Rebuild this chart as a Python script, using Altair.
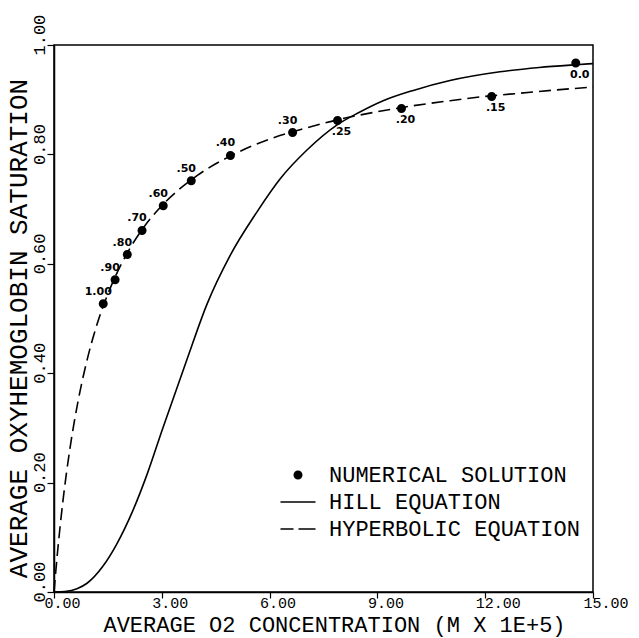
import altair as alt
import pandas as pd

# Numerical solution points
num_x = [1.37, 1.70, 2.04, 2.45, 3.04, 3.82, 4.91, 6.64, 7.89, 9.67, 12.18, 14.52]
num_y = [0.527, 0.571, 0.617, 0.661, 0.706, 0.752, 0.798, 0.840, 0.862, 0.884, 0.906, 0.967]
num_lbl = ["1.00", ".90", ".80", ".70", ".60", ".50", ".40", ".30", ".25", ".20", ".15", "0.0"]

# Hill equation curve
hill_x = [0, 0.3, 0.64, 0.92, 1.36, 1.75, 2.17, 2.59, 3.03, 3.70, 4.25, 4.90, 5.65,
          6.29, 7.04, 7.88, 8.5, 9.16, 10.0, 11.02, 12.41, 13.5, 14.53, 15.0]
hill_y = [0, 0.001, 0.006, 0.016, 0.047, 0.088, 0.145, 0.215, 0.30, 0.425, 0.525, 0.615, 0.695,
          0.755, 0.808, 0.854, 0.877, 0.898, 0.917, 0.935, 0.951, 0.959, 0.964, 0.966]

# Hyperbolic equation curve
hyp_x = [0, 0.1, 0.25, 0.45, 0.67, 0.92, 1.2, 1.5, 2.0, 2.5, 3.0, 4.0, 5.0, 6.0,
         7.0, 8.0, 9.0, 10.0, 11.0, 12.0, 13.0, 14.0, 15.0]
hyp_y = [0, 0.074, 0.167, 0.265, 0.349, 0.424, 0.49, 0.545, 0.615, 0.667, 0.706, 0.762,
         0.80, 0.828, 0.848, 0.865, 0.878, 0.889, 0.898, 0.906, 0.912, 0.918, 0.923]

series_names = ["NUMERICAL SOLUTION", "HILL EQUATION", "HYPERBOLIC EQUATION"]

FONT = "Liberation Mono"

num_df = pd.DataFrame({"x": num_x, "y": num_y, "lbl": num_lbl, "series": series_names[0]})
hill_df = pd.DataFrame({"x": hill_x, "y": hill_y})
hyp_df = pd.DataFrame({"x": hyp_x, "y": hyp_y})

xscale = alt.Scale(domain=[0, 15], nice=False, zero=False)
yscale = alt.Scale(domain=[0, 1], nice=False, zero=False)

xaxis = alt.Axis(
    title="AVERAGE O2 CONCENTRATION (M X 1E+5)",
    values=[0, 3, 6, 9, 12, 15], format=".2f", grid=False,
    tickSize=6, tickColor="black", tickWidth=1.2,
    domainColor="black", domainWidth=1.5,
    labelFont=FONT, labelFontSize=15, labelColor="black",
    labelAlign="left", labelBaseline="top", labelOffset=-10, labelPadding=-3,
    labelFlush=False, labelOverlap=False,
    titleFont=FONT, titleFontSize=22, titleFontWeight="normal", titleColor="black",
    titleX=280, titleY=39, titleAlign="center", titleBaseline="alphabetic",
)
yaxis = alt.Axis(
    title="AVERAGE OXYHEMOGLOBIN SATURATION",
    values=[0, 0.2, 0.4, 0.6, 0.8, 1.0], format=".2f", grid=False,
    tickSize=7, tickColor="black", tickWidth=1.2,
    domainColor="black", domainWidth=1.5,
    labelFont=FONT, labelFontSize=17, labelColor="black",
    labelAngle=270, labelAlign="left", labelBaseline="alphabetic",
    labelPadding=3, labelOffset=10, labelFlush=False, labelOverlap=False,
    titleFont=FONT, titleFontSize=26, titleFontWeight="normal", titleColor="black",
    titleAngle=270, titleX=-28, titleY=283, titleAlign="center", titleBaseline="alphabetic",
)

circle_path = "M-0.45,0A0.45,0.45,0,1,1,0.45,0A0.45,0.45,0,1,1,-0.45,0Z"
solid_path = "M-1.75,-0.08L1.75,-0.08L1.75,0.08L-1.75,0.08Z"
dash_path = ("M-1.75,-0.08L-0.45,-0.08L-0.45,0.08L-1.75,0.08Z"
             "M0.05,-0.08L1.75,-0.08L1.75,0.08L0.05,0.08Z")
shape_scale = alt.Scale(domain=series_names, range=[circle_path, solid_path, dash_path])

hill = alt.Chart(hill_df).mark_line(
    color="black", strokeWidth=1.6, interpolate="monotone"
).encode(
    x=alt.X("x:Q", scale=xscale, axis=xaxis),
    y=alt.Y("y:Q", scale=yscale, axis=yaxis),
)

hyp = alt.Chart(hyp_df).mark_line(
    color="black", strokeWidth=1.6, strokeDash=[12, 6], interpolate="monotone"
).encode(
    x=alt.X("x:Q", scale=xscale),
    y=alt.Y("y:Q", scale=yscale),
)

pts = alt.Chart(num_df).mark_point(
    filled=True, color="black", opacity=1, size=400
).encode(
    x=alt.X("x:Q", scale=xscale),
    y=alt.Y("y:Q", scale=yscale),
    shape=alt.Shape(
        "series:N", scale=shape_scale,
        legend=alt.Legend(
            title=None, orient="none", legendX=233, legendY=419,
            symbolSize=400, symbolFillColor="black", symbolStrokeColor="black",
            symbolStrokeWidth=0, symbolOpacity=1,
            labelFont=FONT, labelFontSize=22, labelColor="black", labelLimit=500,
            labelOffset=20, rowPadding=5, padding=0,
        ),
    ),
)

lbl_up = alt.Chart(num_df).transform_filter("datum.x < 7.5").mark_text(
    font="DejaVu Sans", fontSize=11, fontWeight="bold", color="black",
    dx=-5, dy=-12, align="center", baseline="middle"
).encode(x=alt.X("x:Q", scale=xscale), y=alt.Y("y:Q", scale=yscale), text="lbl:N")

lbl_dn = alt.Chart(num_df).transform_filter("datum.x >= 7.5").mark_text(
    font="DejaVu Sans", fontSize=11, fontWeight="bold", color="black",
    dx=4, dy=12, align="center", baseline="middle"
).encode(x=alt.X("x:Q", scale=xscale), y=alt.Y("y:Q", scale=yscale), text="lbl:N")

chart = alt.layer(hill, hyp, pts, lbl_up, lbl_dn).properties(
    width=539, height=547,
    autosize=alt.AutoSizeParams(type="none"),
    padding={"left": 54, "top": 45, "right": 46, "bottom": 46},
    background="white",
).configure_view(
    stroke="black", strokeWidth=1.5
)

chart.save("out.html", embed_options={"renderer": "svg", "actions": False})
